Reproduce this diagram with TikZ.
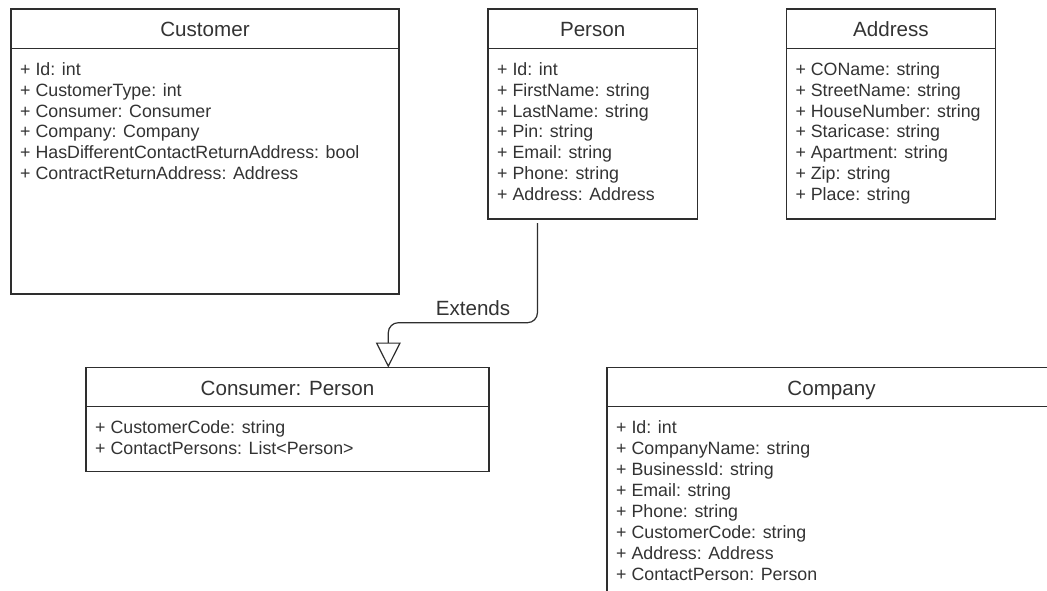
\documentclass[tikz,border=0pt]{standalone}
\usepackage{fontspec}
\setmainfont{Liberation Sans}
\usetikzlibrary{arrows.meta,positioning}
\definecolor{umlline}{HTML}{2E2E2E}
\definecolor{umltext}{HTML}{333333}
\newcommand{\umltitlefont}{\fontsize{20.6}{24}\selectfont}
\newcommand{\umlattrfont}{\fontsize{17.8}{20.9}\selectfont}
\tikzset{classhead/.style={draw=umlline,
                           rectangle,
                           line width=1.2pt,
                           outer sep=0pt,
                           minimum height=39.3pt,
                           text height=16.1pt,
                           text depth=0pt,
                           text=umltext,
                           font=\umltitlefont},
         classbody/.style={draw=umlline,
                           rectangle,
                           line width=1.2pt,
                           outer sep=0pt},
         attrs/.style={align=left,
                       anchor=north west,
                       inner xsep=9pt,
                       inner ysep=0pt,
                       text=umltext,
                       font=\umlattrfont},
         extends/.style={draw=umlline,
                         line width=1.2pt,
                         rounded corners=10pt,
                         -{Triangle[open, length=25pt, width=25pt, fill=white]}},
         tag/.style={text=umltext, font=\umltitlefont, inner sep=0pt}}

\begin{document}
\begin{tikzpicture}[x=1pt,y=-1pt]
    \useasboundingbox (0,0) rectangle (1047,591);
    \clip (0,0) rectangle (1047,591);
    \fill[white] (0,0) rectangle (1047,591);
    % We start by placing the class headers of the top row
    \node [classhead, minimum width=388pt, anchor=north west] (customer) at (11,9) {Customer};
    \node [classhead, minimum width=209.3pt, right=89pt of customer] (person) {Person};
    \node [classhead, minimum width=209.3pt, right=89pt of person] (address) {Address};
    % Then the bottom row, Company runs off the page
    \node [classhead, minimum width=403pt, anchor=north west] (consumer) at (86,367.5) {Consumer: Person};
    \node [classhead, minimum width=449pt, right=118pt of consumer] (company) {Company};
    % Bodies of the classes sit right under their headers
    \node [classbody, minimum width=388pt, minimum height=245.7pt, below=0pt of customer] (customerbody) {};
    \node [classbody, minimum width=209.3pt, minimum height=170.7pt, below=0pt of person] (personbody) {};
    \node [classbody, minimum width=209.3pt, minimum height=170.7pt, below=0pt of address] (addressbody) {};
    \node [classbody, minimum width=403pt, minimum height=65pt, below=0pt of consumer] (consumerbody) {};
    \node [classbody, minimum width=449pt, minimum height=250pt, below=0pt of company] (companybody) {};
    % The attribute lists
    \node [attrs] (customerattrs) at ([yshift=-13.9pt]customerbody.north west)
        {+ Id: int\\+ CustomerType: int\\+ Consumer: Consumer\\+ Company: Company\\+ HasDifferentContactReturnAddress: bool\\+ ContractReturnAddress: Address};
    \node [attrs] (personattrs) at ([yshift=-13.9pt]personbody.north west)
        {+ Id: int\\+ FirstName: string\\+ LastName: string\\+ Pin: string\\+ Email: string\\+ Phone: string\\+ Address: Address};
    \node [attrs] (addressattrs) at ([yshift=-13.9pt]addressbody.north west)
        {+ COName: string\\+ StreetName: string\\+ HouseNumber: string\\+ Staricase: string\\+ Apartment: string\\+ Zip: string\\+ Place: string};
    \node [attrs] (consumerattrs) at ([yshift=-13.9pt]consumerbody.north west)
        {+ CustomerCode: string\\+ ContactPersons: List<Person>};
    \node [attrs] (companyattrs) at ([yshift=-13.9pt]companybody.north west)
        {+ Id: int\\+ CompanyName: string\\+ BusinessId: string\\+ Email: string\\+ Phone: string\\+ CustomerCode: string\\+ Address: Address\\+ ContactPerson: Person};
    % Consumer extends Person
    \coordinate (bend) at ([xshift=100.8pt, yshift=44.8pt]consumer.north);
    \draw [extends] ([xshift=-55.2pt, yshift=-4pt]personbody.south) |- (bend) -- ([xshift=100.8pt]consumer.north);
    \node [tag, anchor=base] (extendstag) at (473,315.7) {Extends};
\end{tikzpicture}
\end{document}
